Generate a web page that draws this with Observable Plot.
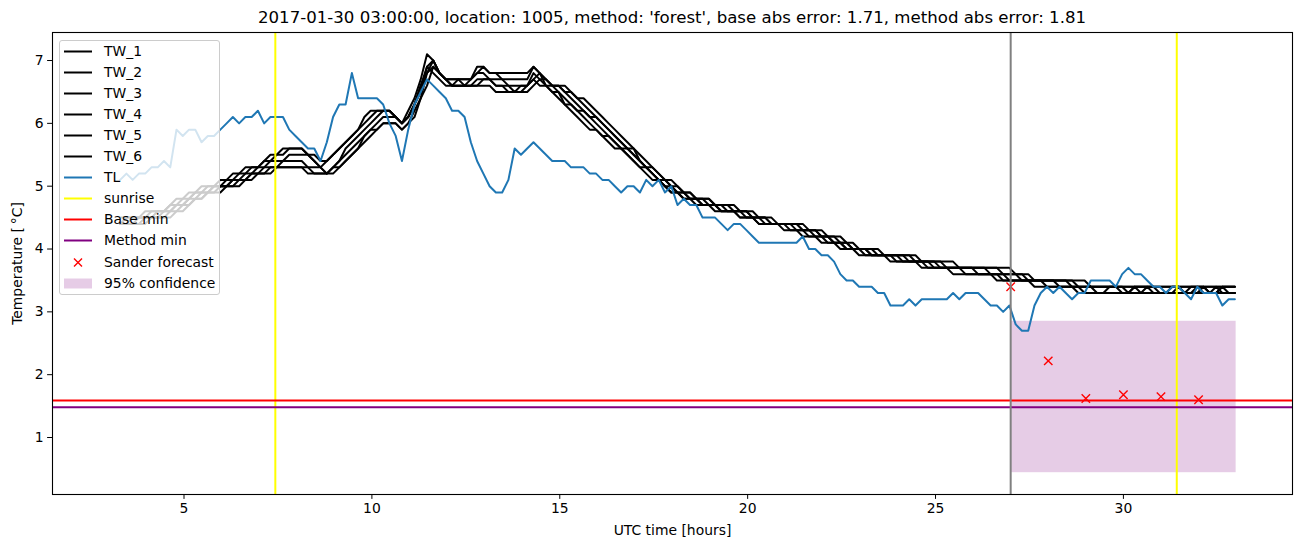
<!DOCTYPE html>
<html><head><meta charset="utf-8">
<script src="https://cdn.jsdelivr.net/npm/d3@7"></script>
<script src="https://cdn.jsdelivr.net/npm/@observablehq/plot@0.6"></script>
<style>
body{margin:0;background:#fff;font-family:"DejaVu Sans",sans-serif;}
#wrap{position:relative;width:1302px;height:547px;}
#wrap svg.plot{display:block;position:absolute;left:0;top:0;}
#title{position:absolute;left:52px;width:1240px;top:7px;text-align:center;font-size:16.6px;line-height:21px;color:#000;white-space:nowrap;}
#legend{position:absolute;left:59px;top:40px;width:159px;height:253px;background:rgba(255,255,255,0.8);border:1px solid #cccccc;border-radius:3px;font-size:13.9px;color:#000;}
.row{position:absolute;left:0;width:159px;height:21px;}
.row svg{position:absolute;left:4px;top:0;}
.row span{position:absolute;left:44px;top:0;line-height:21px;white-space:nowrap;}
</style></head>
<body>
<div id="wrap">
  <div id="title"></div>
  <div id="legend"></div>
</div>
<script>
// ---- data ----
const titleText = "2017-01-30 03:00:00, location: 1005, method: 'forest', base abs error: 1.71, method abs error: 1.81";
const startHour = 3.3;           // first 10-minute sample
const nSamples = 179;
const times = d3.range(nSamples).map(i => startHour + i / 6);

const TL = [5.1,5.2,5.1,5.2,5.2,5.3,5.3,5.4,5.3,5.9, 5.8,5.9,5.9,5.7,5.8,5.8,5.9,6.0,6.1,6.0,
 6.1,6.1,6.2,6.0,6.1,6.1,6.1,5.9,5.8,5.7, 5.6,5.6,5.4,5.7,6.1,6.3,6.3,6.8,6.4,6.4,
 6.4,6.4,6.3,6.0,5.8,5.4,5.9,6.3,6.5,6.7, 6.6,6.5,6.4,6.2,6.2,6.1,5.7,5.4,5.2,5.0,
 4.9,4.9,5.1,5.6,5.5,5.6,5.7,5.6,5.5,5.4, 5.4,5.4,5.3,5.3,5.3,5.2,5.2,5.1,5.1,5.0,
 4.9,5.0,5.0,4.9,5.1,5.0,5.1,4.9,5.0,4.7, 4.8,4.7,4.7,4.5,4.5,4.5,4.4,4.3,4.4,4.4,
 4.3,4.2,4.1,4.1,4.1,4.1,4.1,4.1,4.1,4.2, 4.0,4.0,3.9,3.9,3.8,3.6,3.5,3.5,3.4,3.4,
 3.4,3.3,3.3,3.1,3.1,3.1,3.2,3.1,3.2,3.2, 3.2,3.2,3.2,3.3,3.2,3.3,3.3,3.3,3.2,3.1,
 3.1,3.0,3.1,2.8,2.7,2.7,3.1,3.3,3.4,3.3, 3.4,3.3,3.2,3.3,3.3,3.5,3.5,3.5,3.5,3.4,
 3.6,3.7,3.6,3.6,3.5,3.4,3.4,3.3,3.4,3.4, 3.3,3.2,3.4,3.3,3.3,3.3,3.1,3.2,3.2];

// TW series: [hour where the reading changes, new value]
const TW_1 = [[3.3,4.5],[3.9,4.6],[4.5,4.7],[4.8,4.8],[5.1,4.9],[5.4,5.0],[5.9,5.1],[6.3,5.2],[6.5,5.3],[7.0,5.4],[7.3,5.5],[7.6,5.6],[8.2,5.5],[8.45,5.4],[8.6,5.3],[8.75,5.4],[8.9,5.5],[9.05,5.6],[9.2,5.7],[9.35,5.8],[9.5,5.9],[9.65,6.0],[9.8,6.1],[9.95,6.2],[10.6,6.1],[10.7,6.0],[10.95,6.2],[11.05,6.4],[11.15,6.5],[11.25,6.7],[11.45,7.1],[11.6,7.0],[11.7,6.9],[11.8,6.8],[11.9,6.7],[12.15,6.6],[12.3,6.7],[12.7,6.8],[12.8,6.9],[13.1,6.8],[14.15,6.9],[14.45,6.8],[14.55,6.7],[14.8,6.6],[15.25,6.5],[15.45,6.4],[15.65,6.3],[15.85,6.2],[16.05,6.1],[16.25,6.0],[16.4,5.9],[16.55,5.8],[16.7,5.7],[16.85,5.6],[17.05,5.5],[17.2,5.4],[17.35,5.3],[17.55,5.2],[17.75,5.1],[18.0,5.0],[18.2,4.9],[18.6,4.8],[19.1,4.7],[19.7,4.6],[20.2,4.5],[20.7,4.4],[21.6,4.3],[22.1,4.2],[22.5,4.1],[22.85,4.0],[23.5,3.9],[24.6,3.8],[25.5,3.7],[27.0,3.6],[27.5,3.5],[29.1,3.4]];
const TW_2 = [[3.3,4.4],[3.44,4.5],[4.06,4.6],[4.6,4.7],[4.9,4.8],[5.2,4.9],[5.52,5.0],[6.02,5.1],[6.42,5.2],[6.68,5.3],[7.1,5.4],[7.45,5.5],[7.8,5.6],[8.3,5.5],[8.5,5.4],[8.65,5.3],[8.8,5.4],[8.95,5.5],[9.1,5.6],[9.25,5.7],[9.4,5.8],[9.55,5.9],[9.7,6.0],[9.85,6.1],[10.05,6.2],[10.62,6.1],[10.78,6.0],[10.95,6.1],[11.1,6.3],[11.2,6.5],[11.28,6.6],[11.4,6.9],[11.5,7.0],[11.65,6.9],[11.78,6.8],[11.95,6.7],[12.4,6.6],[12.55,6.7],[12.75,6.8],[12.9,6.9],[13.05,6.8],[13.4,6.7],[14.15,6.8],[14.3,6.9],[14.45,6.8],[14.6,6.7],[14.74,6.6],[15.13,6.5],[15.33,6.4],[15.52,6.3],[15.72,6.2],[15.92,6.1],[16.12,6.0],[16.28,5.9],[16.44,5.8],[16.61,5.7],[16.77,5.6],[16.97,5.5],[17.13,5.4],[17.29,5.3],[17.49,5.2],[17.69,5.1],[17.93,5.0],[18.14,4.9],[18.51,4.8],[19.0,4.7],[19.56,4.6],[20.1,4.5],[20.6,4.4],[21.46,4.3],[21.96,4.2],[22.38,4.1],[22.76,4.0],[23.38,3.9],[24.42,3.8],[25.3,3.7],[26.68,3.6],[27.32,3.5],[28.8,3.4]];
const TW_3 = [[3.3,4.4],[3.58,4.5],[4.22,4.6],[4.7,4.7],[5.0,4.8],[5.3,4.9],[5.64,5.0],[6.14,5.1],[6.54,5.2],[6.86,5.3],[7.3,5.4],[7.65,5.5],[8.35,5.4],[8.55,5.3],[8.7,5.2],[8.85,5.3],[9.0,5.4],[9.15,5.5],[9.3,5.6],[9.45,5.7],[9.6,5.8],[9.75,5.9],[9.9,6.0],[10.05,6.1],[10.25,6.2],[10.6,6.1],[10.75,6.0],[10.9,6.1],[11.05,6.3],[11.15,6.4],[11.25,6.6],[11.4,6.8],[11.5,7.0],[11.65,6.9],[11.75,6.8],[11.85,6.7],[12.0,6.6],[12.2,6.7],[12.8,6.8],[13.0,6.7],[13.6,6.6],[13.75,6.5],[13.85,6.6],[14.2,6.7],[14.3,6.8],[14.45,6.7],[14.68,6.6],[15.01,6.5],[15.21,6.4],[15.39,6.3],[15.59,6.2],[15.79,6.1],[15.99,6.0],[16.16,5.9],[16.33,5.8],[16.52,5.7],[16.69,5.6],[16.89,5.5],[17.06,5.4],[17.23,5.3],[17.43,5.2],[17.63,5.1],[17.86,5.0],[18.08,4.9],[18.42,4.8],[18.9,4.7],[19.42,4.6],[20.0,4.5],[20.5,4.4],[21.32,4.3],[21.82,4.2],[22.26,4.1],[22.67,4.0],[23.26,3.9],[24.24,3.8],[25.1,3.7],[26.36,3.6],[27.14,3.5],[28.5,3.4],[30.0,3.3],[30.3,3.4],[30.9,3.3],[31.2,3.4],[31.6,3.3],[31.8,3.4],[32.3,3.3],[32.5,3.4]];
const TW_4 = [[3.3,4.4],[3.72,4.5],[4.38,4.6],[4.8,4.7],[5.1,4.8],[5.4,4.9],[5.76,5.0],[6.26,5.1],[6.66,5.2],[7.04,5.3],[7.5,5.4],[8.25,5.3],[8.75,5.2],[8.9,5.3],[9.1,5.4],[9.25,5.5],[9.4,5.6],[9.55,5.7],[9.7,5.8],[9.85,5.9],[10.0,6.0],[10.2,6.1],[10.7,6.0],[10.95,6.1],[11.1,6.3],[11.25,6.5],[11.35,6.7],[11.45,6.9],[11.62,6.8],[11.78,6.7],[11.95,6.6],[12.85,6.7],[13.3,6.6],[14.2,6.7],[14.35,6.8],[14.5,6.7],[14.62,6.6],[14.89,6.5],[15.09,6.4],[15.26,6.3],[15.46,6.2],[15.66,6.1],[15.86,6.0],[16.04,5.9],[16.22,5.8],[16.43,5.7],[16.61,5.6],[16.81,5.5],[16.99,5.4],[17.17,5.3],[17.37,5.2],[17.57,5.1],[17.79,5.0],[18.02,4.9],[18.33,4.8],[18.8,4.7],[19.28,4.6],[19.9,4.5],[20.4,4.4],[21.18,4.3],[21.68,4.2],[22.14,4.1],[22.58,4.0],[23.14,3.9],[24.06,3.8],[24.9,3.7],[26.04,3.6],[26.96,3.5],[28.2,3.4],[29.2,3.3],[29.6,3.4],[29.9,3.3],[30.6,3.4],[30.8,3.3],[31.4,3.4],[31.55,3.3],[32.0,3.4],[32.15,3.3],[32.6,3.4],[32.75,3.3]];
const TW_5 = [[3.3,4.4],[3.86,4.5],[4.54,4.6],[4.9,4.7],[5.2,4.8],[5.5,4.9],[5.88,5.0],[6.38,5.1],[6.78,5.2],[7.22,5.3],[8.4,5.2],[8.95,5.3],[9.15,5.4],[9.35,5.5],[9.5,5.6],[9.65,5.7],[9.8,5.8],[9.95,5.9],[10.15,6.0],[10.75,5.9],[10.9,6.0],[11.1,6.2],[11.25,6.4],[11.35,6.6],[11.45,6.8],[11.6,6.9],[11.75,6.8],[11.9,6.7],[12.0,6.6],[13.3,6.5],[14.1,6.6],[14.25,6.7],[14.45,6.6],[14.77,6.5],[14.97,6.4],[15.13,6.3],[15.33,6.2],[15.53,6.1],[15.73,6.0],[15.92,5.9],[16.11,5.8],[16.34,5.7],[16.53,5.6],[16.73,5.5],[16.92,5.4],[17.11,5.3],[17.31,5.2],[17.51,5.1],[17.72,5.0],[17.96,4.9],[18.24,4.8],[18.7,4.7],[19.14,4.6],[19.8,4.5],[20.3,4.4],[21.04,4.3],[21.54,4.2],[22.02,4.1],[22.49,4.0],[23.02,3.9],[23.88,3.8],[24.7,3.7],[25.72,3.6],[26.78,3.5],[27.9,3.4],[28.9,3.3],[30.2,3.4],[30.4,3.3],[31.9,3.4],[32.05,3.3],[32.4,3.4],[32.55,3.3]];
const TW_6 = [[3.3,4.4],[4.0,4.5],[4.7,4.6],[5.0,4.7],[5.3,4.8],[5.6,4.9],[6.0,5.0],[6.5,5.1],[6.9,5.2],[7.4,5.3],[8.3,5.2],[9.0,5.3],[9.25,5.4],[9.45,5.5],[9.6,5.6],[9.75,5.7],[9.9,5.8],[10.1,5.9],[10.3,6.0],[10.75,5.9],[10.9,6.0],[11.05,6.1],[11.15,6.2],[11.28,6.4],[11.4,6.6],[11.5,6.8],[11.62,6.9],[11.78,6.8],[11.9,6.7],[12.0,6.6],[12.7,6.7],[13.2,6.6],[13.6,6.5],[14.2,6.6],[14.35,6.7],[14.5,6.6],[14.65,6.5],[14.85,6.4],[15.0,6.3],[15.2,6.2],[15.4,6.1],[15.6,6.0],[15.8,5.9],[16.0,5.8],[16.25,5.7],[16.45,5.6],[16.65,5.5],[16.85,5.4],[17.05,5.3],[17.25,5.2],[17.45,5.1],[17.65,5.0],[17.9,4.9],[18.15,4.8],[18.6,4.7],[19.0,4.6],[19.7,4.5],[20.2,4.4],[20.9,4.3],[21.4,4.2],[21.9,4.1],[22.4,4.0],[22.9,3.9],[23.7,3.8],[24.5,3.7],[25.4,3.6],[26.6,3.5],[27.6,3.4],[28.7,3.3]];

const sunriseHours = [7.43, 31.42];
const forecastStart = 27;
const baseMin = 1.59;
const methodMin = 1.48;
const sanderHours = [27, 28, 29, 30, 31, 32];
const sanderValues = [3.40, 2.22, 1.62, 1.68, 1.65, 1.60];
const confidence = {x1: 27, x2: 33, y1: 0.44, y2: 2.85};
const xTicks = [5, 10, 15, 20, 25, 30];
const yTicks = [1, 2, 3, 4, 5, 6, 7];

// ---- build tables ----
function expandSteps(bps) {
  return times.map(t => {
    let v = bps[0][1];
    for (const [h, val] of bps) if (h <= t + 1e-6) v = val;
    return v;
  });
}
const twSeries = {TW_1, TW_2, TW_3, TW_4, TW_5, TW_6};
const twRows = [];
for (const [name, bps] of Object.entries(twSeries)) {
  expandSteps(bps).forEach((v, i) => twRows.push({series: name, t: times[i], v}));
}
const tlRows = TL.map((v, i) => ({t: times[i], v}));
const sanderRows = sanderHours.map((h, i) => ({t: h, v: sanderValues[i]}));

const chart = Plot.plot({
  width: 1302, height: 547,
  marginLeft: 52, marginRight: 10, marginTop: 32, marginBottom: 53,
  style: {fontFamily: "DejaVu Sans", fontSize: "13.9px", color: "black", background: "white"},
  x: {domain: [1.5, 34.5]},
  y: {domain: [0.093, 7.446]},
  marks: [
    Plot.rect([confidence], {x1: "x1", x2: "x2", y1: "y1", y2: "y2", fill: "purple", fillOpacity: 0.2}),
    Plot.line(twRows, {x: "t", y: "v", z: "series", stroke: "black", strokeWidth: 2}),
    Plot.line(tlRows, {x: "t", y: "v", stroke: "#1f77b4", strokeWidth: 2}),
    Plot.ruleX(sunriseHours, {stroke: "yellow", strokeWidth: 2}),
    Plot.ruleY([baseMin], {stroke: "red", strokeWidth: 2}),
    Plot.ruleY([methodMin], {stroke: "purple", strokeWidth: 2}),
    Plot.dot(sanderRows, {x: "t", y: "v", symbol: "times", stroke: "red", r: 3.9, strokeWidth: 1.4}),
    Plot.ruleX([forecastStart], {stroke: "gray", strokeWidth: 2}),
    Plot.frame({stroke: "black", strokeWidth: 1.1}),
    Plot.axisX({ticks: xTicks, tickSize: 4.9, tickPadding: 4, fontSize: 13.9, label: "UTC time [hours]", labelAnchor: "center", labelOffset: 40, labelArrow: "none"}),
    Plot.axisY({ticks: yTicks, tickSize: 4.9, tickPadding: 4, fontSize: 13.9, label: "Temperature [\u2009\u00b0C]", labelAnchor: "center", labelOffset: 40, labelArrow: "none"})
  ]
});
chart.classList.add("plot");
const wrap = document.getElementById("wrap");
wrap.insertBefore(chart, wrap.firstChild);
document.getElementById("title").textContent = titleText;

// ---- legend ----
const legendItems = [
  ["TW_1", "line", "black"], ["TW_2", "line", "black"], ["TW_3", "line", "black"],
  ["TW_4", "line", "black"], ["TW_5", "line", "black"], ["TW_6", "line", "black"],
  ["TL", "line", "#1f77b4"], ["sunrise", "line", "yellow"], ["Base min", "line", "red"],
  ["Method min", "line", "purple"], ["Sander forecast", "x", "red"], ["95% confidence", "patch", "purple"]
];
const legend = document.getElementById("legend");
legendItems.forEach(([label, kind, color], i) => {
  const row = document.createElement("div");
  row.className = "row";
  row.style.top = (i * 21.05) + "px";
  let handle;
  if (kind === "line") handle = `<line x1="0" x2="28" y1="10.5" y2="10.5" stroke="${color}" stroke-width="2"/>`;
  else if (kind === "x") handle = `<path d="M10,6.5L18,14.5M10,14.5L18,6.5" stroke="${color}" stroke-width="1.4"/>`;
  else handle = `<rect x="0" y="5.5" width="28" height="10" fill="${color}" fill-opacity="0.2"/>`;
  row.innerHTML = `<svg width="28" height="21">${handle}</svg><span>${label}</span>`;
  legend.appendChild(row);
});
</script>
</body></html>
